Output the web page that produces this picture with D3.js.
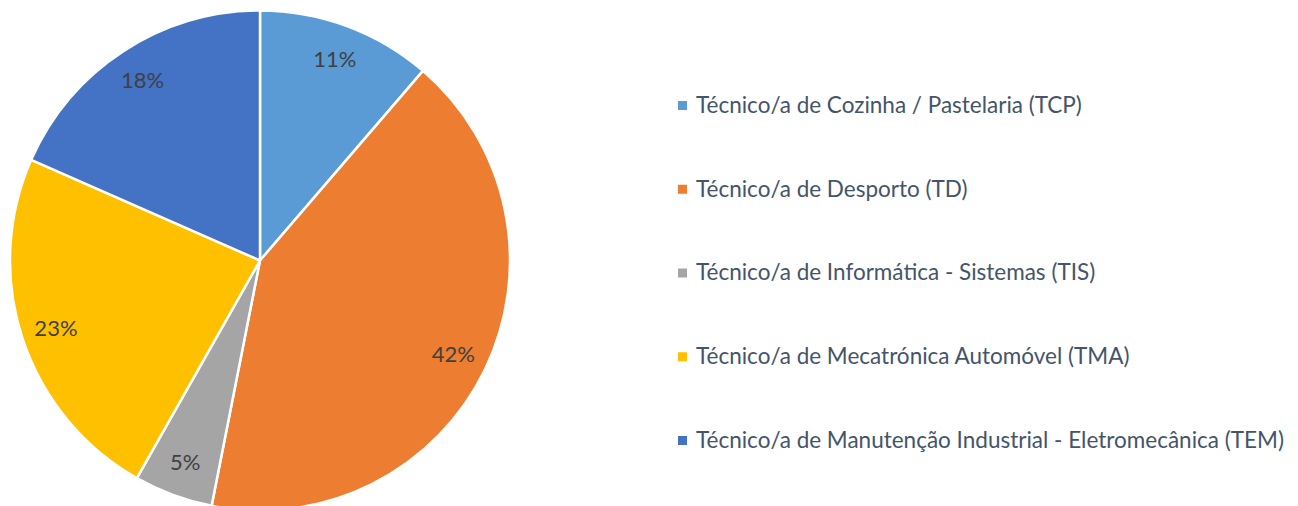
<!DOCTYPE html>
<html><head><meta charset="utf-8">
<script src="https://cdn.jsdelivr.net/npm/d3@7"></script>
<style>html,body{margin:0;padding:0;background:#fff;}</style>
</head><body>
<svg id="chart" width="1298" height="506"></svg>
<script>
const categories = [
  "Técnico/a de Cozinha / Pastelaria (TCP)",
  "Técnico/a de Desporto (TD)",
  "Técnico/a de Informática - Sistemas (TIS)",
  "Técnico/a de Mecatrónica Automóvel (TMA)",
  "Técnico/a de Manutenção Industrial - Eletromecânica (TEM)"
];
const values = [11.3, 41.8, 5.1, 23.4, 18.4];
const labels = ["11%", "42%", "5%", "23%", "18%"];
const colors = ["#5B9BD5", "#ED7D31", "#A5A5A5", "#FFC000", "#4472C4"];

const svg = d3.select("#chart");
const cx = 260, cy = 260.5, r = 250;
const g = svg.append("g").attr("transform", `translate(${cx},${cy})`);
const pie = d3.pie().sort(null).value(d => d);
const arcs = pie(values);
const arc = d3.arc().innerRadius(0).outerRadius(r);
g.selectAll("path.slice").data(arcs).enter().append("path")
  .attr("class", "slice")
  .attr("d", arc)
  .attr("fill", (d, i) => colors[i])
  .attr("stroke", "#fff")
  .attr("stroke-width", 2.5)
  .attr("stroke-linejoin", "round");

const labelArc = d3.arc().innerRadius(r * 0.86).outerRadius(r * 0.86);
g.selectAll("text.lbl").data(arcs).enter().append("text")
  .attr("class", "lbl")
  .attr("transform", d => `translate(${labelArc.centroid(d)})`)
  .attr("text-anchor", "middle")
  .attr("dy", "0.35em")
  .attr("font-family", "Lato, 'Open Sans', sans-serif")
  .attr("font-size", 22)
  .attr("fill", "#404040")
  .text((d, i) => labels[i]);

const legend = svg.append("g");
const ly = d3.scalePoint().domain(categories).range([105, 440]);
const items = legend.selectAll("g").data(categories).enter().append("g")
  .attr("transform", d => `translate(678,${ly(d)})`);
items.append("rect").attr("x", 0).attr("y", -4).attr("width", 9).attr("height", 9)
  .attr("fill", (d, i) => colors[i]);
items.append("text").attr("x", 18).attr("dy", "0.35em")
  .attr("font-family", "Lato, 'Open Sans', sans-serif")
  .attr("font-size", 22.5)
  .attr("fill", "#44546A")
  .text(d => d);
</script>
</body></html>
